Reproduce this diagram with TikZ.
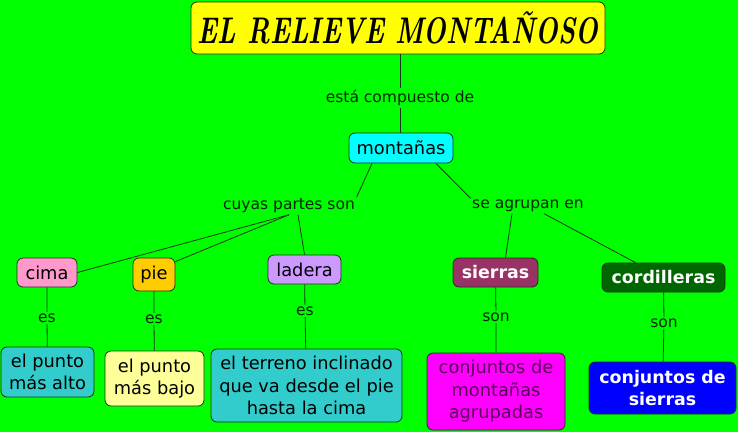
\documentclass[tikz,border=0pt]{standalone}
\usepackage{fontspec}
\usepackage{graphicx}
\setsansfont{DejaVu Sans}
\definecolor{bg}{HTML}{00FF00}
\definecolor{ctitle}{HTML}{FFFF00}
\definecolor{ccyan}{HTML}{00FFFF}
\definecolor{cpink}{HTML}{FF99CC}
\definecolor{cgold}{HTML}{FFCC00}
\definecolor{clav}{HTML}{CC99FF}
\definecolor{cmaroon}{HTML}{993366}
\definecolor{cdkgreen}{HTML}{006600}
\definecolor{cteal}{HTML}{33CCCC}
\definecolor{cltyellow}{HTML}{FFFF99}
\definecolor{cmagenta}{HTML}{FF00FF}
\definecolor{cblue}{HTML}{0000FF}
\definecolor{edge}{HTML}{1A331A}
\definecolor{darkpurple}{HTML}{550055}
\begin{document}
\begin{tikzpicture}[x=1pt,y=-1pt,
  concept/.style={draw=edge, line width=0.8pt, rounded corners=6pt, inner sep=0pt, align=center,
    font=\sffamily\fontsize{17.8}{22.5}\selectfont, text=black},
  boldc/.style={concept, text=white, font=\sffamily\bfseries\fontsize{17.4}{22.5}\selectfont},
  lab/.style={inner sep=1.5pt, font=\sffamily\fontsize{15.5}{18}\selectfont, text=black!85!green},
  link/.style={draw=edge, line width=0.8pt}]
\fill[bg] (0,0) rectangle (738,432);
\useasboundingbox (0,0) rectangle (738,432);

\node[concept, fill=ctitle, minimum width=414pt, minimum height=52pt,
  font=\rmfamily\bfseries\itshape\fontsize{26.5}{30}\selectfont] (title) at (398,28) {\scalebox{1}[1.4]{EL RELIEVE MONTAÑOSO}};
\node[concept, fill=ccyan, minimum width=104pt, minimum height=30pt] (mont) at (401,148) {montañas};

\node[concept, fill=cpink, minimum width=60pt, minimum height=29pt] (cima) at (47,272.5) {cima};
\node[concept, fill=cgold, minimum width=42pt, minimum height=33pt] (pie) at (154,274.5) {pie};
\node[concept, fill=clav, minimum width=73pt, minimum height=29pt] (ladera) at (304.5,269.5) {ladera};
\node[boldc, fill=cmaroon, minimum width=85pt, minimum height=29pt] (sierras) at (495.5,272.5) {sierras};
\node[boldc, fill=cdkgreen, minimum width=123pt, minimum height=29pt] (cord) at (663.5,277.5) {cordilleras};

\node[concept, fill=cteal, minimum width=93pt, minimum height=50pt] (alto) at (47.5,372) {el punto\\más alto};
\node[concept, fill=cltyellow, minimum width=99pt, minimum height=55pt] (bajo) at (154.5,378.5) {el punto\\más bajo};
\node[concept, fill=cteal, minimum width=191pt, minimum height=73pt] (terreno) at (306.5,385.5) {el terreno inclinado\\que va desde el pie\\hasta la cima};
\node[concept, fill=cmagenta, minimum width=138pt, minimum height=77pt, text=darkpurple] (agrup) at (496,391.5) {conjuntos de\\montañas\\agrupadas};
\node[boldc, fill=cblue, minimum width=147pt, minimum height=52pt] (csier) at (662.5,388) {conjuntos de\\sierras};

\node[lab] (l1) at (400,98) {está compuesto de};
\node[lab] (l2) at (289,206) {cuyas partes son};
\node[lab] (l3) at (528,206) {se agrupan en};
\node[lab] (e1) at (47,318) {es};
\node[lab] (e2) at (154,319) {es};
\node[lab] (e3) at (305,311) {es};
\node[lab] (s1) at (496,317) {son};
\node[lab] (s2) at (664,323) {son};

\draw[link] (title.south -| l1) -- (l1);
\draw[link] (l1) -- (mont.north -| l1);
\draw[link] ([xshift=-29pt]mont.south) -- (l2.north east);
\draw[link] ([xshift=35pt]mont.south) -- (l3.north west);
\draw[link] (l2.south) -- (cima.east);
\draw[link] (l2.south) -- ([yshift=-4pt]pie.north east);
\draw[link] ([xshift=9pt]l2.south) -- (ladera.north);
\draw[link] ([xshift=-16pt]l3.south) -- ([xshift=10pt]sierras.north);
\draw[link] ([xshift=16pt]l3.south) -- ([xshift=-28pt]cord.north);
\draw[link] (cima) -- (e1) -- (alto);
\draw[link] (pie) -- (e2) -- (bajo);
\draw[link] (ladera) -- (e3) -- (terreno);
\draw[link] (sierras) -- (s1) -- (agrup);
\draw[link] (cord) -- (s2) -- (csier);
\end{tikzpicture}
\end{document}
